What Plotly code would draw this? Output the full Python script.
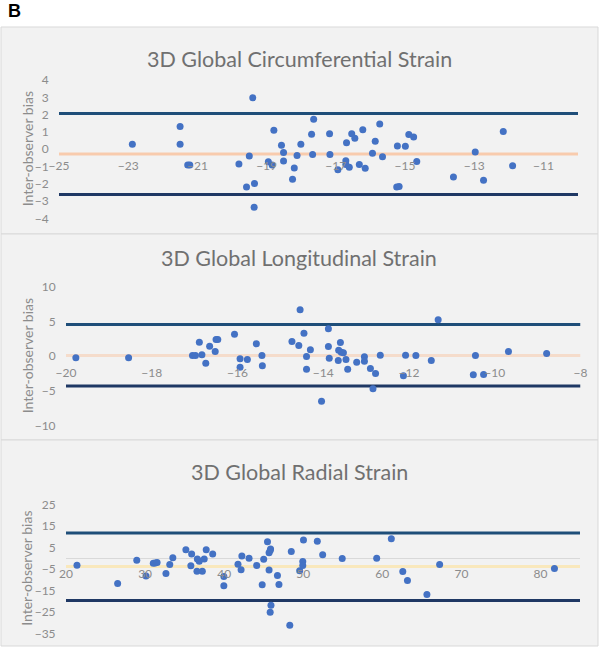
import plotly.graph_objects as go

# ---------------- data ----------------
titles = ["3D Global Circumferential Strain", "3D Global Longitudinal Strain", "3D Global Radial Strain"]

gcs_mean = [-22.88, -21.5, -21.5, -21.28, -21.22, -19.8, -19.58, -19.5, -19.4, -19.35, -19.36, -18.95, -18.84,
            -18.79, -18.57, -18.51, -18.51, -18.25, -18.2, -18.12, -18.01, -17.7, -17.67, -17.64, -17.18, -17.17,
            -16.94, -16.71, -16.69, -16.71, -16.61, -16.54, -16.45, -16.32, -16.22, -16.15, -15.94, -15.86, -15.73,
            -15.65, -15.22, -15.24, -15.17, -14.99, -14.89, -14.75, -14.66, -13.6, -12.97, -12.73, -12.16, -11.89]
gcs_diff = [0.29, 1.31, 0.29, -0.92, -0.92, -0.86, -2.18, -0.39, 2.97, -1.98, -3.35, -0.73, -0.92,
            1.1, 0.23, -0.19, -0.68, -1.73, -1.08, -0.37, 0.29, 0.87, -0.31, 1.73, 0.89, -0.31,
            -1.19, -0.67, 0.37, -0.89, -1.04, 0.9, 0.64, -0.89, 1.12, -1.1, -0.23, 0.46, 1.46,
            -0.44, 0.19, -2.18, -2.16, 0.17, 0.85, 0.71, -0.71, -1.6, -0.16, -1.79, 1.02, -0.96]

gls_mean = [-19.77, -18.54, -17.05, -16.98, -16.89, -16.83, -16.74, -16.65, -16.52, -16.5, -16.46, -16.07, -15.94,
            -15.94, -15.77, -15.56, -15.43, -15.42, -14.73, -14.57, -14.54, -14.45, -14.39, -14.39, -14.3, -14.04,
            -13.88, -13.88, -13.86, -13.65, -13.64, -13.6, -13.58, -13.53, -13.47, -13.43, -13.22, -13.04, -13.04,
            -12.9, -12.84, -12.78, -12.67, -12.13, -12.08, -11.84, -11.48, -11.32, -10.5, -10.45, -10.26, -9.68, -8.79]
gls_diff = [-0.23, -0.23, 0.1, 0.1, 2.0, 0.2, -1.0, 1.44, 0.68, 2.4, 2.4, 3.17, -0.38,
            -1.58, -0.47, 1.78, 0.1, -1.38, 2.12, 1.54, 6.67, 3.31, -0.05, -1.87, 0.92, -6.47,
            3.94, 1.4, -0.28, -0.62, 0.87, 1.97, 0.58, 0.49, -0.47, -1.87, -0.86, -0.09, -0.72,
            -1.77, -4.69, -2.49, 0.14, -2.82, 0.14, 0.1, -0.62, 5.24, -2.68, 0.1, -2.63, 0.68, 0.39]

grs_mean = [21.39, 26.53, 28.95, 30.12, 31.04, 31.28, 31.52, 32.64, 33.12, 33.51, 35.16, 35.79, 35.89, 36.56,
            36.61, 36.85, 37.24, 37.48, 37.73, 38.55, 39.96, 39.96, 41.75, 42.14, 42.24, 43.15, 44.12, 44.81,
            45.0, 45.48, 45.68, 45.68, 45.82, 45.87, 45.82, 45.92, 46.74, 46.93, 48.3, 48.49, 49.55, 49.94,
            49.94, 50.03, 51.78, 52.46, 54.93, 59.29, 61.14, 62.59, 63.18, 65.64, 67.25, 81.77]
grs_diff = [-3.3, -11.8, -1.0, -8.4, -2.4, -2.3, -2.1, -7.2, -3.0, 0.1, 3.9, -3.6, 1.9, -6.1,
            -0.4, -1.5, -6.1, -0.4, 3.9, 1.9, -8.6, -12.9, -2.9, -5.5, 1.0, -0.1, -3.5, -12.4,
            -0.6, 7.6, 2.5, -5.6, 3.5, 4.2, -25.2, -22.0, -8.1, -12.3, -31.3, 3.0, -5.9, -1.6,
            -3.5, 8.4, 7.8, 1.5, -0.2, -0.1, 9.0, -6.3, -10.4, -17.0, -3.0, -4.9]

bias = [-0.28, 0.10, -3.9]
upper_loa = [2.06, 4.56, 11.7]
lower_loa = [-2.62, -4.30, -19.7]

x_ranges = [[-25, -10], [-20, -8], [20, 85]]
x_tick0 = [-25, -20, 20]
x_dtick = [2, 2, 10]
y_ranges = [[-4, 4], [-10, 10], [-35, 25]]
y_tick0 = [-4, -10, -35]
y_dtick = [1, 5, 10]

means = [gcs_mean, gls_mean, grs_mean]
diffs = [gcs_diff, gls_diff, grs_diff]

# ---------------- styling / layout geometry (pixels) ----------------
W, H = 601, 648
BLUE = "#4472C4"
UPPER_COL = "#1F4E79"
LOWER_COL = "#1F3864"
BIAS_COLS = ["#F8CBAD", "#F5DCCB", "#F9E8BC"]
TICK_COL = "#8C8C8C"
TITLE_COL = "#707070"
FONT = "Lato, 'Open Sans', sans-serif"

panel_boxes = [(1, 27, 598, 234), (1, 234, 598, 440), (1, 440, 598, 646)]
plot_x = [(59, 578), (66, 580.5), (66, 580)]
plot_y = [(80, 218.4), (286.7, 425.7), (504.3, 633.3)]
title_y = [59, 258, 472]


def px(x):
    return x / W


def py(y):
    return 1 - y / H


fig = go.Figure()
shapes = []
annotations = []
layout_axes = {}

for i in range(3):
    n = "" if i == 0 else str(i + 1)
    xa, ya = "x" + n, "y" + n
    x0p, x1p = plot_x[i]
    ytp, ybp = plot_y[i]
    ymin, ymax = y_ranges[i]
    zero_py = ytp + (ymax - 0) / (ymax - ymin) * (ybp - ytp)

    # panel background
    bx0, by0, bx1, by1 = panel_boxes[i]
    shapes.append(dict(type="rect", xref="paper", yref="paper", x0=px(bx0), x1=px(bx1),
                       y0=py(by1), y1=py(by0), fillcolor="#F2F2F2",
                       line=dict(color="#D9D9D9", width=1), layer="below"))

    xr = x_ranges[i]
    # bias and limits of agreement lines
    for val, col, wd in [(bias[i], BIAS_COLS[i], 3), (upper_loa[i], UPPER_COL, 3), (lower_loa[i], LOWER_COL, 3)]:
        fig.add_trace(go.Scatter(x=xr, y=[val, val], mode="lines", xaxis=xa, yaxis=ya,
                                 line=dict(color=col, width=wd), hoverinfo="skip", showlegend=False))
    # data points
    fig.add_trace(go.Scatter(x=means[i], y=diffs[i], mode="markers", xaxis=xa, yaxis=ya,
                             marker=dict(color=BLUE, size=7), showlegend=False))

    layout_axes["xaxis" + n] = dict(
        domain=[px(x0p), px(x1p)], range=xr, anchor="free", position=py(zero_py),
        tick0=x_tick0[i], dtick=x_dtick[i], showgrid=False, zeroline=False, showline=False,
        ticks="outside", ticklen=5, tickcolor="rgba(0,0,0,0)", automargin=False,
        tickfont=dict(family=FONT, size=12, color=TICK_COL), fixedrange=True)
    layout_axes["yaxis" + n] = dict(
        domain=[py(ybp), py(ytp)], range=[ymin, ymax], anchor="free",
        position=px(x0p), tick0=y_tick0[i], dtick=y_dtick[i], showgrid=False,
        zeroline=(i == 2), zerolinecolor="#D9D9D9", zerolinewidth=1, showline=False,
        ticks="outside", ticklen=8, tickcolor="rgba(0,0,0,0)", automargin=False,
        tickfont=dict(family=FONT, size=12, color=TICK_COL), fixedrange=True)

    annotations.append(dict(text=titles[i], xref="paper", yref="paper", x=px(299), y=py(title_y[i]),
                            showarrow=False, font=dict(family=FONT, size=21.5, color=TITLE_COL),
                            xanchor="center", yanchor="middle"))
    annotations.append(dict(text="Inter-observer bias", xref="paper", yref="paper", x=px(27),
                            y=py((ytp + ybp) / 2), textangle=-90, showarrow=False,
                            font=dict(family=FONT, size=14, color=TICK_COL),
                            xanchor="center", yanchor="middle"))

annotations.append(dict(text="<b>B</b>", xref="paper", yref="paper", x=px(6), y=py(11),
                        showarrow=False, font=dict(family="Liberation Sans, Arial", size=18, color="#000000"),
                        xanchor="left", yanchor="middle"))

fig.update_layout(width=W, height=H, margin=dict(l=0, r=0, t=0, b=0, pad=0, autoexpand=False),
                  paper_bgcolor="#FFFFFF", plot_bgcolor="rgba(0,0,0,0)",
                  shapes=shapes, annotations=annotations, showlegend=False, **layout_axes)

fig.write_html("out.html", config={"displayModeBar": False},
               post_script="document.body.style.margin='0';")
